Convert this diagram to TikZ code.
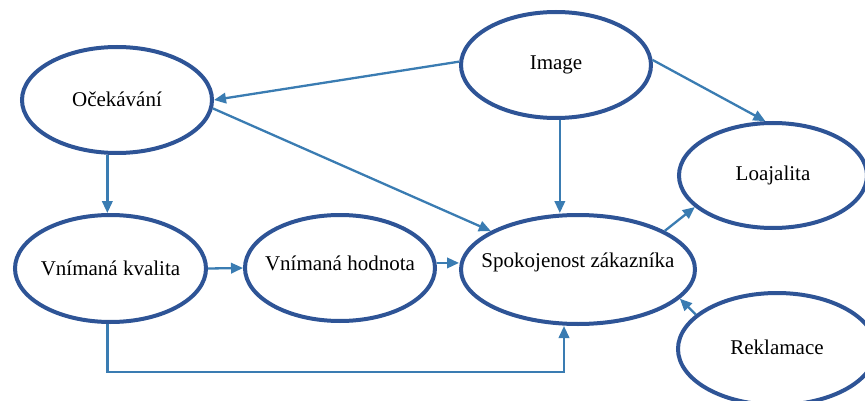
\documentclass[tikz,border=0pt]{standalone}
\usepackage{fontspec}
\setmainfont{Liberation Serif}
\usetikzlibrary{shapes.geometric,arrows.meta}
\definecolor{ellblue}{RGB}{46,84,150}
\definecolor{arrblue}{RGB}{58,124,178}
\tikzset{
  bubble/.style={ellipse, draw=ellblue, line width=4pt, fill=white, inner sep=0pt},
  lbl/.style={font=\fontsize{21}{25}\selectfont, text=black},
  conn/.style={draw=arrblue, line width=2.3pt, -{Triangle[length=12pt,width=10.5pt]}}
}
\begin{document}
\begin{tikzpicture}[x=1pt,y=1pt]
\useasboundingbox (0,0) rectangle (865,-401);
\clip (0,0) rectangle (865,-401);
\node[bubble, minimum width=190pt, minimum height=106pt, label={[lbl,yshift=1pt]center:Očekávání}] (oce) at (117,-100) {};
\node[bubble, minimum width=190pt, minimum height=106pt, label={[lbl]center:Image}] (img) at (556,-65) {};
\node[bubble, minimum width=188pt, minimum height=105pt, label={[lbl]center:Loajalita}] (loa) at (773,-175.5) {};
\node[bubble, minimum width=191pt, minimum height=107pt, label={[lbl]center:Vnímaná kvalita}] (kval) at (110.5,-268.5) {};
\node[bubble, minimum width=190pt, minimum height=106pt, label={[lbl,yshift=5pt]center:Vnímaná hodnota}] (hod) at (340,-268) {};
\node[bubble, minimum width=234pt, minimum height=109pt, label={[lbl,yshift=7pt]center:Spokojenost zákazníka}] (spok) at (578,-269.5) {};
\node[bubble, minimum width=198pt, minimum height=112pt, label={[lbl,yshift=2pt]center:Reklamace}] (rek) at (777,-349) {};
\coordinate (loop) at (564,-372);
% connectors
\draw[conn] (img.178) -- (oce.east);
\draw[conn] (oce.-5) -- (spok);
\draw[conn] (img.-86) -- (img.-86 |- spok.north);
\draw[conn] (img.3) -- (loa.98);
\draw[conn] (oce.-100) -- (oce.-100 |- kval.north);
\draw[conn] (kval.east) -- (hod.west);
\draw[conn] (hod.3) -- (hod.3 -| spok.west);
\draw[conn] (spok.24) -- (loa.202);
\draw[conn] (rek.157) -- (spok.-16);
\draw[conn] (kval.-93) |- (loop) -- (loop |- spok.south);
\end{tikzpicture}
\end{document}
